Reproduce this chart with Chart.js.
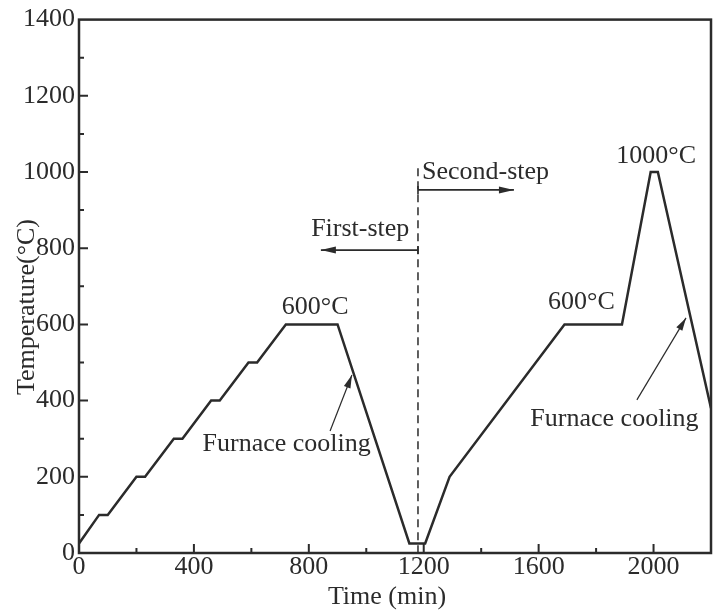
<!DOCTYPE html>
<html>
<head>
<meta charset="utf-8">
<script src="https://cdn.jsdelivr.net/npm/chart.js@4"></script>
<style>
  body { margin: 0; background: #fff; }
</style>
</head>
<body>
<canvas id="heatChart" width="720" height="613"></canvas>
<script>
// heat treatment profile
const times = [0, 70, 100, 200, 230, 330, 360, 460, 490, 590, 620, 720, 900, 1150, 1205, 1290, 1690, 1890, 1990, 2015, 2200];
const temps = [25, 100, 100, 200, 200, 300, 300, 400, 400, 500, 500, 600, 600, 25, 25, 200, 600, 600, 1000, 1000, 380];

const xLabelTicks = [0, 400, 800, 1200, 1600, 2000];
const yLabelTicks = [0, 200, 400, 600, 800, 1000, 1200, 1400];

// text notes (time, temperature)
const noteTexts = ['600°C', 'Furnace cooling', 'First-step', 'Second-step', '600°C', '1000°C', 'Furnace cooling'];
const noteTimes = [822, 723, 979, 1415, 1749, 2009, 1864];
const noteTemps = [646, 286, 850, 1000, 659, 1042, 352];

// step divider and arrows
const dividerTime = 1180;
const dividerTop = 1010;
const stepArrowTemps = [795, 953];
const stepArrowEnds = [842, 1514];
const coolTails = [[874, 320], [1942, 402]];
const coolHeads = [[950, 467], [2113, 617]];

const ink = '#2b2b2b';
const serif = 'Liberation Serif, Times New Roman, serif';

function arrowHead(ctx, x0, y0, x1, y1, len, half) {
  const ang = Math.atan2(y1 - y0, x1 - x0);
  ctx.beginPath();
  ctx.moveTo(x1, y1);
  ctx.lineTo(x1 - len * Math.cos(ang) + half * Math.sin(ang), y1 - len * Math.sin(ang) - half * Math.cos(ang));
  ctx.lineTo(x1 - len * Math.cos(ang) - half * Math.sin(ang), y1 - len * Math.sin(ang) + half * Math.cos(ang));
  ctx.closePath();
  ctx.fill();
}

const annotate = {
  id: 'annotate',
  afterDraw(chart) {
    const { ctx, chartArea: a, scales: { x, y } } = chart;
    ctx.save();
    ctx.strokeStyle = ink;
    ctx.fillStyle = ink;

    // frame
    ctx.lineWidth = 2.5;
    ctx.strokeRect(a.left, a.top, a.right - a.left, a.bottom - a.top);

    // inward ticks
    ctx.lineWidth = 2;
    ctx.beginPath();
    for (let v = 200; v < 2200; v += 200) {
      const px = x.getPixelForValue(v);
      const len = v % 400 === 0 ? 9 : 5;
      ctx.moveTo(px, a.bottom);
      ctx.lineTo(px, a.bottom - len);
    }
    for (let v = 100; v < 1400; v += 100) {
      const py = y.getPixelForValue(v);
      const len = v % 200 === 0 ? 9 : 5;
      ctx.moveTo(a.left, py);
      ctx.lineTo(a.left + len, py);
    }
    ctx.stroke();

    // dashed divider
    const dx = x.getPixelForValue(dividerTime);
    ctx.lineWidth = 1.5;
    ctx.setLineDash([8, 5]);
    ctx.beginPath();
    ctx.moveTo(dx, y.getPixelForValue(dividerTop));
    ctx.lineTo(dx, a.bottom);
    ctx.stroke();
    ctx.setLineDash([]);

    // step arrows
    stepArrowTemps.forEach((t, i) => {
      const py = y.getPixelForValue(t);
      const ex = x.getPixelForValue(stepArrowEnds[i]);
      ctx.lineWidth = 1.6;
      ctx.beginPath();
      ctx.moveTo(dx, py);
      ctx.lineTo(ex, py);
      ctx.moveTo(dx, py - 4);
      ctx.lineTo(dx, py + 4);
      ctx.stroke();
      arrowHead(ctx, dx, py, ex, py, 15, 3.5);
    });

    // furnace cooling arrows
    coolTails.forEach((tl, i) => {
      const x0 = x.getPixelForValue(tl[0]), y0 = y.getPixelForValue(tl[1]);
      const x1 = x.getPixelForValue(coolHeads[i][0]), y1 = y.getPixelForValue(coolHeads[i][1]);
      ctx.lineWidth = 1.2;
      ctx.beginPath();
      ctx.moveTo(x0, y0);
      ctx.lineTo(x1, y1);
      ctx.stroke();
      arrowHead(ctx, x0, y0, x1, y1, 13, 3.5);
    });

    // notes
    ctx.font = '26px ' + serif;
    ctx.textAlign = 'center';
    ctx.textBaseline = 'middle';
    noteTexts.forEach((s, i) => {
      ctx.fillText(s, x.getPixelForValue(noteTimes[i]), y.getPixelForValue(noteTemps[i]));
    });

    // axis titles
    ctx.fillText('Time (min)', 387, 597);
    ctx.translate(27, 307);
    ctx.rotate(-Math.PI / 2);
    ctx.fillText('Temperature(°C)', 0, 0);
    ctx.restore();
  }
};

new Chart(document.getElementById('heatChart'), {
  type: 'scatter',
  data: {
    datasets: [{
      data: times.map((t, i) => ({ x: t, y: temps[i] })),
      showLine: true,
      borderColor: ink,
      borderWidth: 2.5,
      pointRadius: 0,
      tension: 0
    }]
  },
  options: {
    responsive: false,
    animation: false,
    devicePixelRatio: 1,
    layout: { padding: { top: 19, right: 9, left: 0, bottom: 0 } },
    plugins: { legend: { display: false }, tooltip: { enabled: false } },
    scales: {
      x: {
        type: 'linear',
        min: 0,
        max: 2200,
        grid: { display: false, drawTicks: false },
        border: { display: false },
        afterFit: (s) => { s.height = 60; },
        ticks: {
          stepSize: 200,
          autoSkip: false,
          maxRotation: 0,
          padding: 0,
          color: ink,
          font: { family: serif, size: 26, lineHeight: 1.1 },
          callback: (v) => xLabelTicks.includes(v) ? String(v) : ''
        }
      },
      y: {
        min: 0,
        max: 1400,
        grid: { display: false, drawTicks: false },
        border: { display: false },
        afterFit: (s) => { s.width = 79; },
        ticks: {
          stepSize: 100,
          autoSkip: false,
          padding: 4,
          color: ink,
          font: { family: serif, size: 26 },
          callback: (v) => yLabelTicks.includes(v) ? String(v) : ''
        }
      }
    }
  },
  plugins: [annotate]
});
</script>
</body>
</html>
